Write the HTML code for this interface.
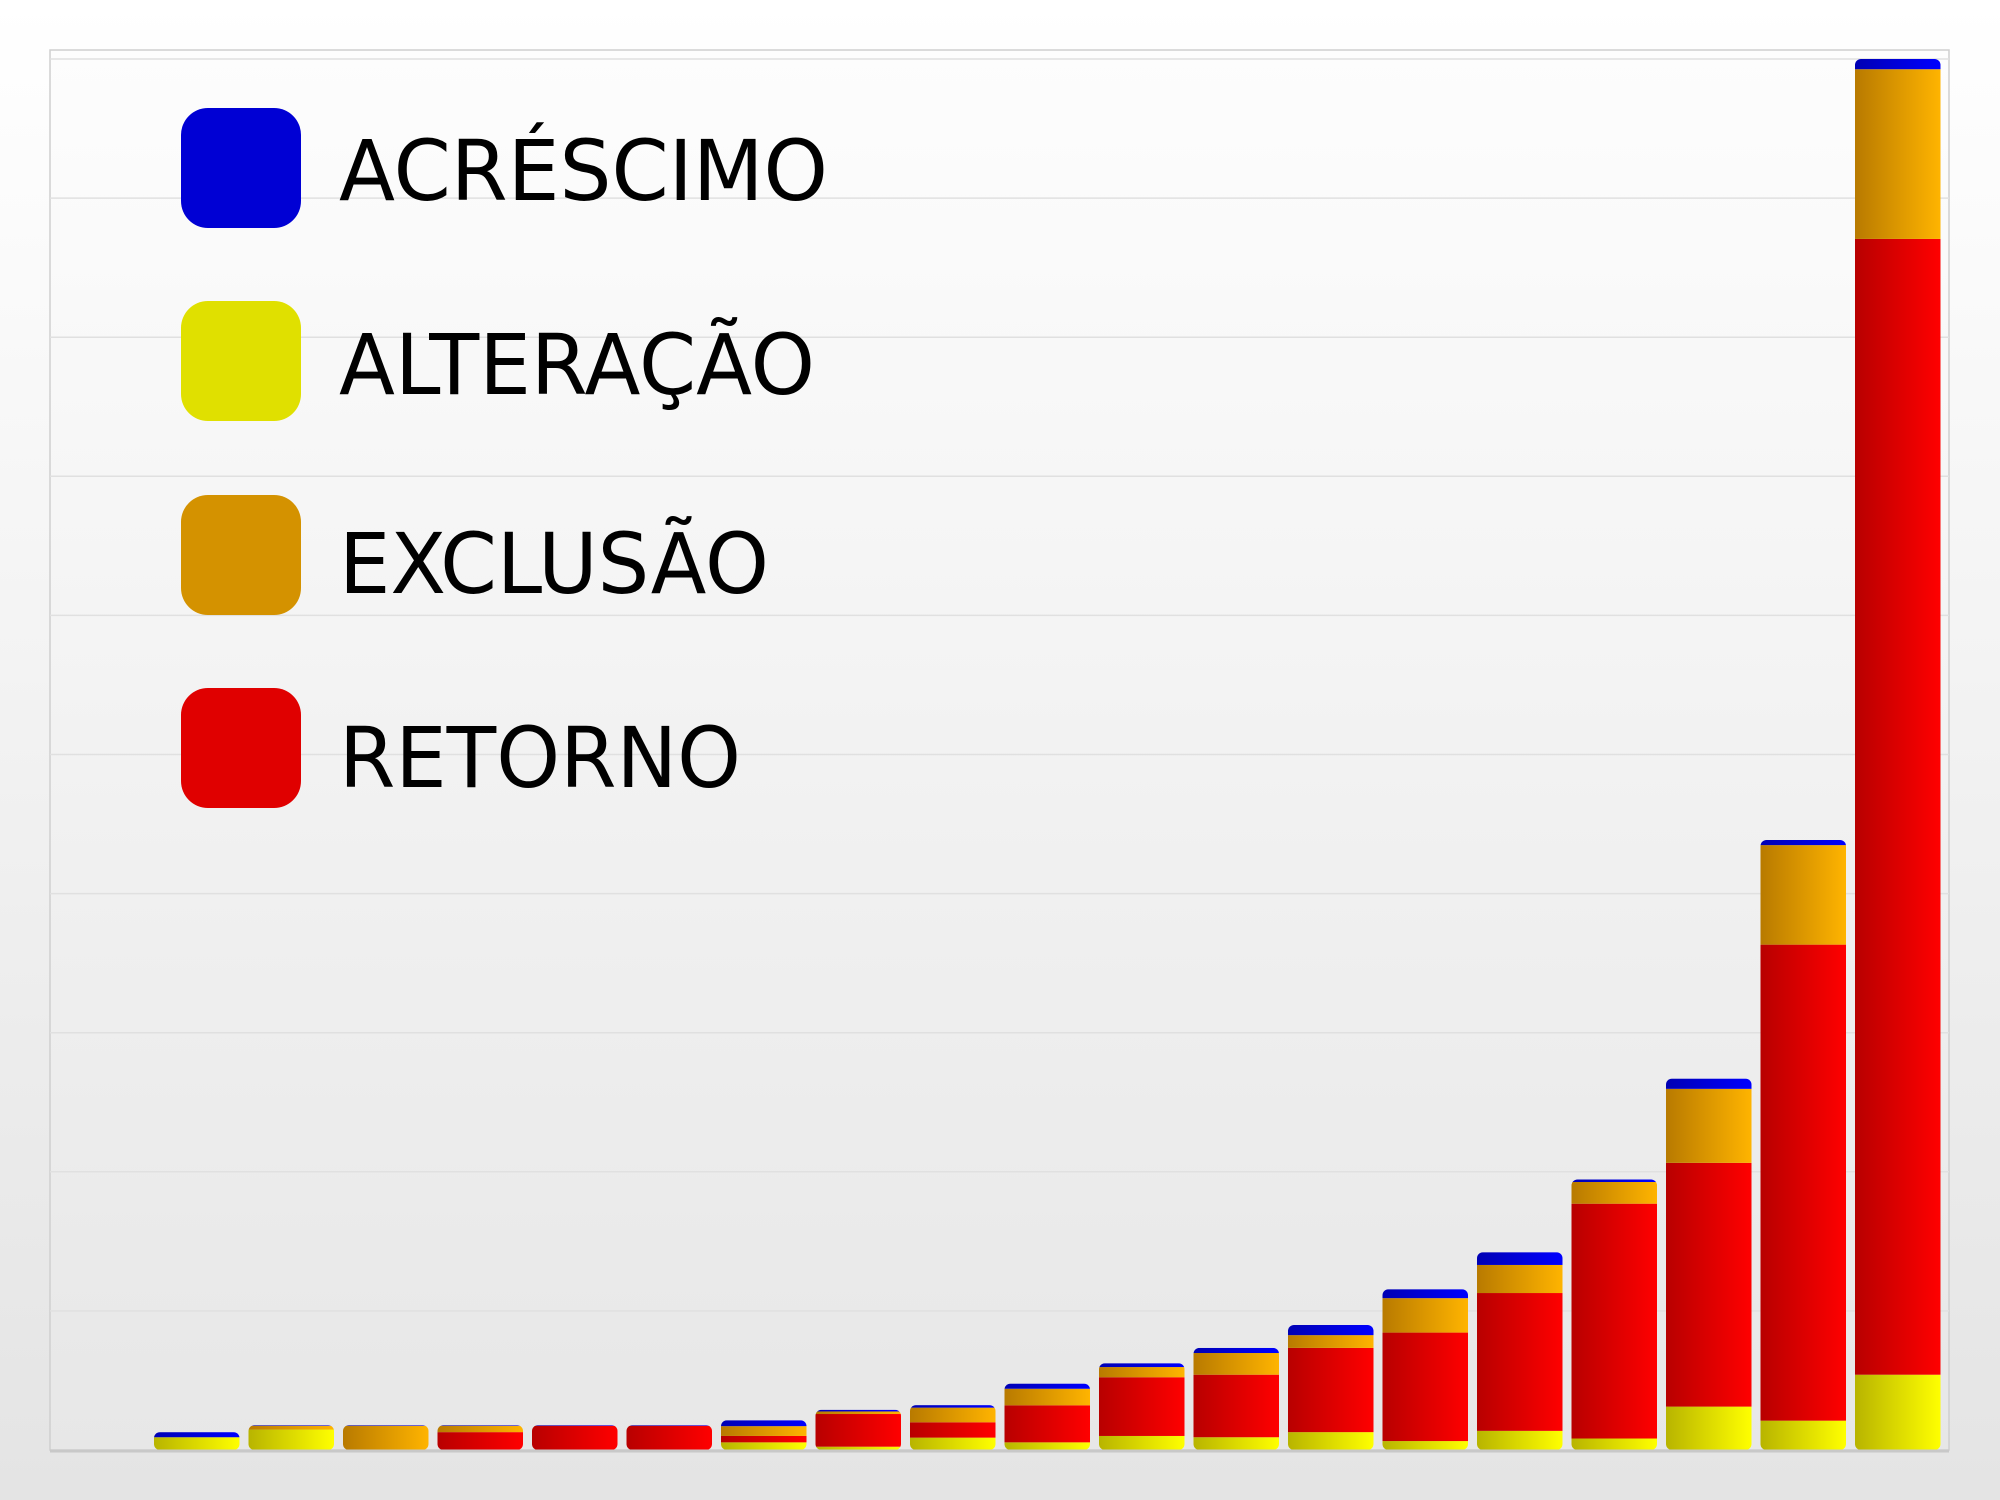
<!DOCTYPE html>
<html><head><meta charset="utf-8"><style>
html,body{margin:0;padding:0;}
body{width:2000px;height:1500px;overflow:hidden;background:linear-gradient(#ffffff,#e4e4e4);}
svg{display:block;}
text{font-family:"DejaVu Sans","Liberation Sans",sans-serif;}
</style></head><body>
<svg id="chart" width="2000" height="1500" viewBox="0 0 2000 1500">
<defs>
<linearGradient id="bg" x1="0" y1="0" x2="0" y2="1"><stop offset="0" stop-color="#fdfdfd"/><stop offset="1" stop-color="#e7e7e7"/></linearGradient>
<linearGradient id="g-ac" x1="0" x2="1"><stop offset="0" stop-color="#0000b4"/><stop offset="1" stop-color="#0000ff"/></linearGradient>
<linearGradient id="g-al" x1="0" x2="1"><stop offset="0" stop-color="#b8b400"/><stop offset="1" stop-color="#ffff00"/></linearGradient>
<linearGradient id="g-ex" x1="0" x2="1"><stop offset="0" stop-color="#b87a00"/><stop offset="1" stop-color="#ffb400"/></linearGradient>
<linearGradient id="g-re" x1="0" x2="1"><stop offset="0" stop-color="#b80000"/><stop offset="1" stop-color="#ff0000"/></linearGradient>
</defs>
<rect x="50" y="50" width="1899" height="1400" fill="url(#bg)" stroke="#cfcfcf" stroke-width="1.5"/>
<g id="grid"></g>
<g id="bars"></g>
<line x1="50" y1="1451" x2="1949" y2="1451" stroke="#c8c8c8" stroke-width="3"/>
<g>
<rect x="181" y="108" width="120" height="120" rx="27" fill="#0000d4"/>
<text x="339" y="200" font-size="84" textLength="489" lengthAdjust="spacingAndGlyphs">ACRÉSCIMO</text>
<rect x="181" y="301" width="120" height="120" rx="27" fill="#e0e000"/>
<text x="339" y="394" font-size="84" textLength="476" lengthAdjust="spacingAndGlyphs">ALTERAÇÃO</text>
<rect x="181" y="495" width="120" height="120" rx="27" fill="#d49200"/>
<text x="339" y="593" font-size="84" textLength="430" lengthAdjust="spacingAndGlyphs">EXCLUSÃO</text>
<rect x="181" y="688" width="120" height="120" rx="27" fill="#e00000"/>
<text x="339" y="787" font-size="84" textLength="402" lengthAdjust="spacingAndGlyphs">RETORNO</text>
</g>
</svg>
<script>
const categories = ["c0","c1","c2","c3","c4","c5","c6","c7","c8","c9","c10","c11","c12","c13","c14","c15","c16","c17","c18","c19"];
const alteracao = [0,10,16,0,0,0,0,6,2.6,9.7,6,11,10,14,7,15,9,34,23,59];
const retorno   = [0,0,0,0,14,19,19,5,25.6,12,29,46,49,66,85,108,184,191,373,890];
const exclusao  = [0,0,3,19,5,0,0,7.7,2,11.5,13,8,17,10,27,22,17,58,78,133];
const acrescimo = [0,4,0.5,0.5,0.5,0.5,0.5,4.6,1.3,2,4,3,4,8,7,10,2,8,4,8];
const gridTicks = [0,109,218,327,436,545,654,763,872,981,1090];
const yMax = 1090;
const plotTop = 59, plotBottom = 1450, plotLeft = 59.5, slotW = 94.5, barW = 85.5;
function y(v){ return plotBottom - v/yMax*(plotBottom-plotTop); }
function x(i){ return plotLeft + i*slotW; }
const NS = "http://www.w3.org/2000/svg";
const grid = document.getElementById('grid');
gridTicks.forEach((t,k)=>{
  if(t===0) return;
  const l = document.createElementNS(NS,'line');
  
  
  l.setAttribute('x1',50); l.setAttribute('x2',1949);
  l.setAttribute('y1',y(t)); l.setAttribute('y2',y(t));
  l.setAttribute('stroke','#e0e0e0'); l.setAttribute('stroke-width','1.5');
  grid.appendChild(l);
});
const bars = document.getElementById('bars');
const series = [[alteracao,'url(#g-al)','alteracao'],[retorno,'url(#g-re)','retorno'],[exclusao,'url(#g-ex)','exclusao'],[acrescimo,'url(#g-ac)','acrescimo']];
categories.forEach((c,i)=>{
  const total = alteracao[i]+retorno[i]+exclusao[i]+acrescimo[i];
  if(total<=0) return;
  const cp = document.createElementNS(NS,'clipPath');
  cp.setAttribute('id','clip'+i);
  const cr = document.createElementNS(NS,'rect');
  cr.setAttribute('x',x(i)); cr.setAttribute('width',barW);
  cr.setAttribute('y',y(total)); cr.setAttribute('height',y(0)-y(total));
  cr.setAttribute('rx',6);
  cp.appendChild(cr); bars.appendChild(cp);
  const g = document.createElementNS(NS,'g');
  
  
  g.setAttribute('clip-path','url(#clip'+i+')');
  let base = 0;
  series.forEach(([arr,fill,name])=>{
    const v = arr[i];
    if(v<=0) return;
    const r = document.createElementNS(NS,'rect');
    
    
    r.setAttribute('x',x(i)); r.setAttribute('width',barW);
    r.setAttribute('y',y(base+v)); r.setAttribute('height',y(base)-y(base+v));
    r.setAttribute('fill',fill);
    g.appendChild(r);
    base += v;
  });
  bars.appendChild(g);
});
</script>
</body></html>
